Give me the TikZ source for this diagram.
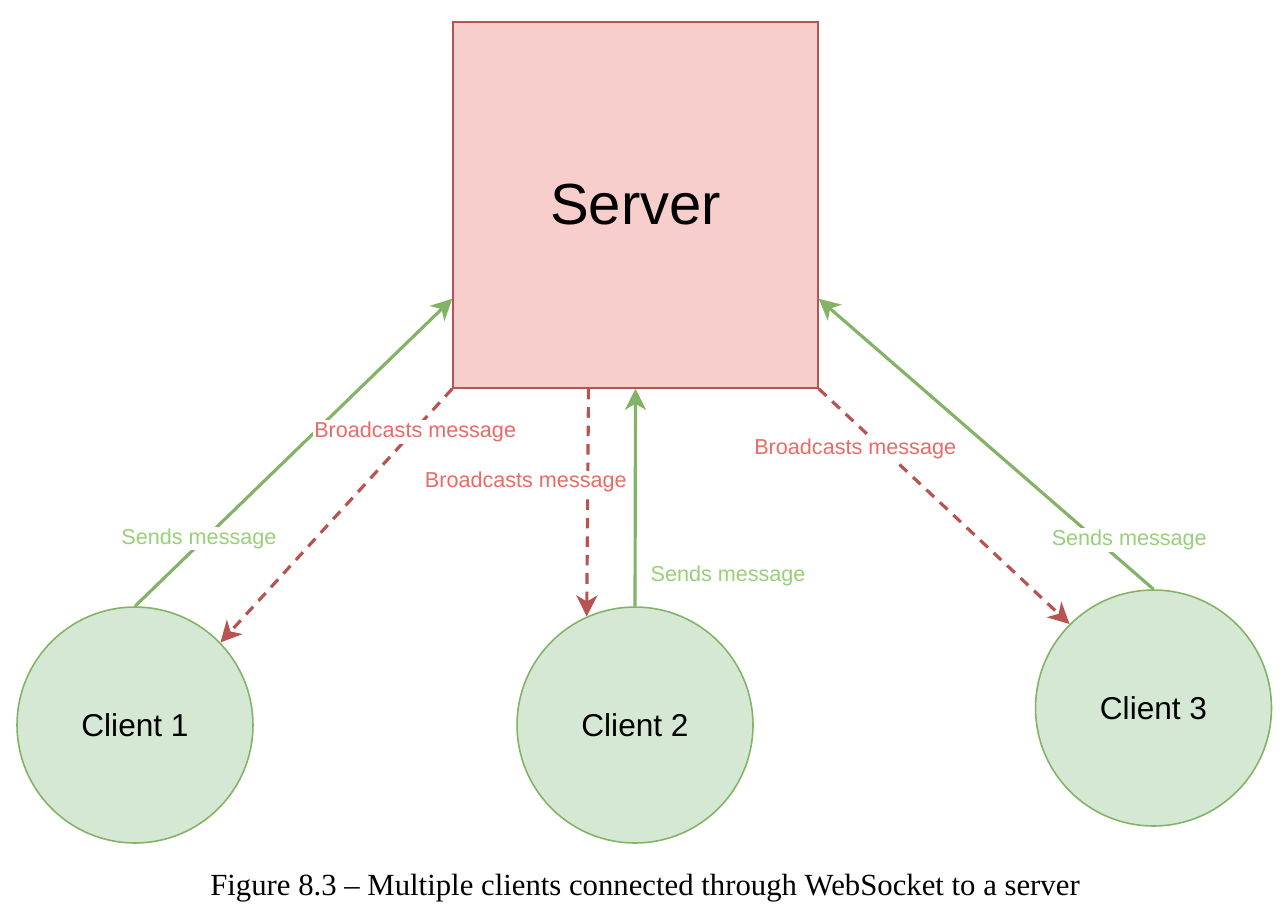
\documentclass[tikz,border=0pt]{standalone}
\usepackage{fontspec}
\setmainfont{Liberation Sans}
\newfontfamily\capfont{Liberation Serif}
\usepackage{tikz}
\usetikzlibrary{arrows.meta,positioning}

\definecolor{srvfill}{HTML}{F8CECC}
\definecolor{srvline}{HTML}{B85450}
\definecolor{clifill}{HTML}{D5E8D4}
\definecolor{cliline}{HTML}{82B366}
\definecolor{redtext}{HTML}{EA6B66}
\definecolor{greentext}{HTML}{97D077}

\begin{document}
\begin{tikzpicture}[x=0.02cm,y=-0.02cm,
    client/.style={circle,draw=cliline,fill=clifill,line width=0.9pt,minimum size=4.72cm,font=\fontsize{18}{22}\selectfont},
    sends/.style={draw=cliline,line width=1.8pt,-{Stealth[length=12pt,width=12pt,inset=3.5pt]}},
    bcast/.style={draw=srvline,line width=1.8pt,dash pattern=on 6pt off 4.5pt,-{Stealth[length=12pt,width=12pt,inset=3.5pt]}},
    sendlbl/.style={fill=white,inner sep=1pt,yshift=-0.06cm,text=greentext,font=\fontsize{12.3}{14}\selectfont},
    bcastlbl/.style={fill=white,inner sep=1pt,yshift=-0.05cm,text=redtext,font=\fontsize{12.3}{14}\selectfont}]
    \useasboundingbox (0,0) rectangle (1287,916);

    % Server and clients
    \node[draw=srvline,fill=srvfill,line width=0.9pt,minimum width=7.3cm,minimum height=7.32cm,
          font=\fontsize{33}{40}\selectfont] (srv) at (635.5,205) {\raisebox{-0.06cm}{Server}};
    \node[client] (c1) at (135,725) {Client 1};
    \node[client] (c2) at (635,725) {Client 2};
    \node[client] (c3) at (1153.5,708) {Client 3};

    \coordinate (inL) at ([yshift=1.8cm]srv.south west);
    \coordinate (inR) at ([yshift=1.8cm]srv.south east);
    \coordinate (outM) at ([xshift=-0.94cm]srv.south);

    % Messages
    \draw[sends] (c1.north) -- node[sendlbl,pos=0.23,xshift=-0.18cm] {Sends message} (inL);
    \draw[bcast] (srv.south west) -- node[bcastlbl,pos=0.16] {Broadcasts message} (c1.44);
    \draw[bcast] (outM) -- node[bcastlbl,pos=0.4,xshift=-1.24cm] {Broadcasts message} (c2.114);
    \draw[sends] (c2.north) -- node[sendlbl,pos=0.155,xshift=1.86cm] {Sends message} (srv.south);
    \draw[bcast] (srv.south east) -- node[bcastlbl,pos=0.245,xshift=-0.5cm] {Broadcasts message} (c3.135);
    \draw[sends] (c3.north) -- node[sendlbl,pos=0.18,xshift=0.72cm] {Sends message} (inR);

    \node[font=\capfont\fontsize{17.5}{20}\selectfont] (cap) at (645,888)
        {Figure 8.3 – Multiple clients connected through WebSocket to a server};
\end{tikzpicture}
\end{document}
